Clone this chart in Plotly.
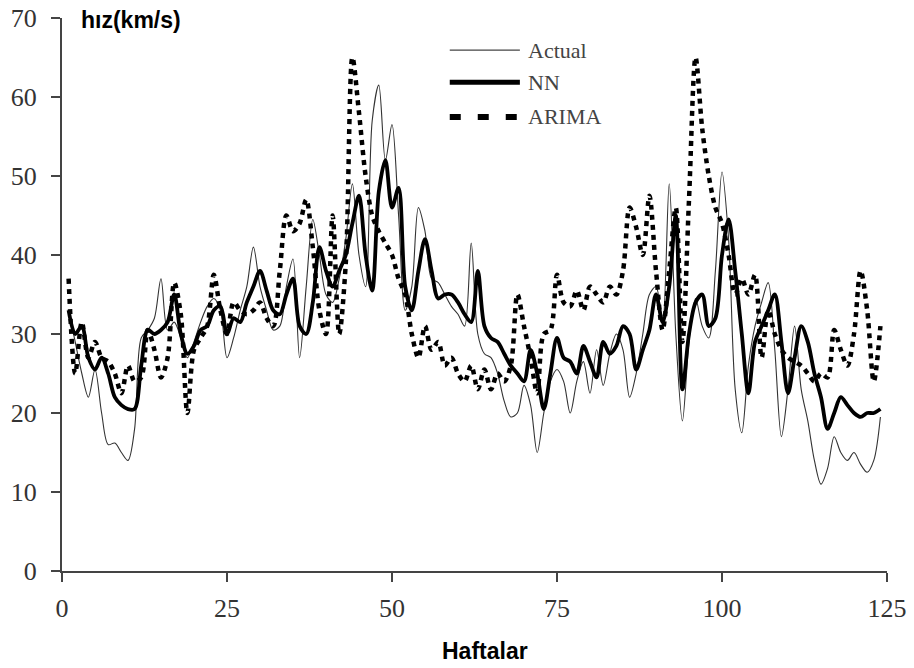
import plotly.graph_objects as go

weeks = list(range(1, 125))

actual = [33, 29, 25, 22, 25.5, 20, 16, 16.2, 15, 14,
          18, 29.5, 30.5, 32, 37, 30.5, 31.5, 29.5, 27, 29,
          31.5, 33.5, 34.5, 33, 27, 29.5, 33, 36, 41, 36,
          33, 30.5, 31, 36, 39.5, 27, 36, 44.5, 40, 35,
          34, 37, 42, 49, 40, 36, 57, 61.5, 52, 56.5,
          45, 33, 36, 46, 43, 37, 36.5, 35, 33.5, 32.5,
          31, 41.5, 30, 27.5, 27, 25, 21.5, 19.5, 20, 23.5,
          21, 15, 20, 24, 25.5, 24, 20, 24, 26.5, 22.5,
          28, 23.5, 27.5, 30, 28, 22, 25, 30, 35, 36,
          31.5, 49, 30, 19, 29, 34.5, 31, 29.5, 38, 50.5,
          42, 23, 17.5, 26, 31, 34, 36.5, 28, 17, 23,
          31, 23, 19, 14, 11, 13, 17, 15, 14, 15,
          13.5, 12.5, 14, 19.5]

nn = [33, 30, 31, 27, 25.5, 27, 25, 22, 21, 20.5,
      20.5, 26, 30.5, 30, 30.5, 31.5, 35, 30, 27.5, 28.5,
      30.5, 31, 33, 33.5, 30, 32, 31.5, 34, 36, 38,
      35.5, 33, 32.5, 35, 37, 31, 30, 34, 41, 38,
      36, 38, 40, 44, 47.5, 40, 35.5, 48, 52, 46,
      48.5, 36, 33, 38, 42, 38, 34.5, 35, 35, 34,
      32.5, 31.5, 38, 31, 29.5, 29, 27.5, 26, 25, 24,
      28, 25, 20.5, 25, 29.5, 27, 26.5, 25, 28.5, 26.5,
      24.5, 29, 27.5, 28.5, 31, 30, 25.5, 28, 30.5, 35,
      31.5, 36, 45, 23, 30, 34, 35, 31, 32, 40,
      44.5, 38, 30, 22.5, 29, 31, 33, 35, 29, 22.5,
      27, 31, 29, 25, 22, 18, 20, 22, 21, 20,
      19.5, 20, 20, 20.5]

arima = [37, 25, 31.5, 27, 29, 27, 26.5, 25, 22.5, 26,
         24, 24.5, 30.5, 28, 24.5, 27, 36.5, 32.5, 20, 28,
         29.5, 31, 37.5, 33, 30, 34, 33, 32.5, 33, 34,
         32, 31, 38, 45, 43, 44, 47, 41, 33, 30,
         45, 30, 39, 65, 58, 50, 45, 43, 41.5, 40,
         37, 35, 30, 27, 31, 28, 29, 26, 27, 25,
         24, 26, 23, 25.5, 23, 25, 24, 26, 35, 31,
         27, 22.5, 30, 30.5, 37.5, 34, 33.5, 35.5, 33, 36,
         35, 34, 36, 35, 38, 46, 43.5, 40, 47.5, 38,
         30.5, 38, 46, 29, 47, 65, 56, 50, 46, 44,
         40, 35, 37, 35, 37.5, 27, 33, 30, 28, 27,
         26.5, 26, 25, 24, 25, 24.5, 30.5, 28, 26, 30,
         38, 33, 24, 31]

x_ticks = [0, 25, 50, 75, 100, 125]
y_ticks = [0, 10, 20, 30, 40, 50, 60, 70]

series_names = ["Actual", "NN", "ARIMA"]

fig = go.Figure()

fig.add_trace(go.Scatter(
    x=weeks, y=actual, name="Actual", mode="lines",
    line=dict(color="#333333", width=1.1, shape="spline", smoothing=0.9),
    showlegend=False))
fig.add_trace(go.Scatter(
    x=weeks, y=nn, name="NN", mode="lines",
    line=dict(color="#000000", width=3.8, shape="spline", smoothing=0.9),
    showlegend=False))
fig.add_trace(go.Scatter(
    x=weeks, y=arima, name="ARIMA", mode="lines",
    line=dict(color="#000000", width=4.5, dash="5px,5px",
              shape="spline", smoothing=0.9),
    showlegend=False))

# hand-built legend: line samples plus labels
legend_styles = [
    dict(color="#444444", width=1.3),
    dict(color="#000000", width=5),
    dict(color="#000000", width=6, dash="11px,17px"),
]
legend_y = [0.942, 0.884, 0.821]
for name, style, ly in zip(series_names, legend_styles, legend_y):
    fig.add_shape(type="line", xref="paper", yref="paper",
                  x0=0.470, x1=0.555, y0=ly, y1=ly, line=style)
    fig.add_annotation(xref="paper", yref="paper", x=0.562, y=ly,
                       text=name, showarrow=False, xanchor="left",
                       yanchor="middle",
                       font=dict(family="Liberation Serif", size=22,
                                 color="#444444"))

# axis titles
fig.add_annotation(xref="paper", yref="paper", x=0.021, y=0.997,
                   text="<b>hız(km/s)</b>", showarrow=False,
                   xanchor="left", yanchor="middle",
                   font=dict(family="Liberation Sans", size=23,
                             color="#000000"))
fig.add_annotation(xref="paper", yref="paper", x=0.513, y=-0.145,
                   text="<b>Haftalar</b>", showarrow=False,
                   xanchor="center", yanchor="middle",
                   font=dict(family="Liberation Sans", size=23,
                             color="#000000"))

axis_common = dict(
    showgrid=False, zeroline=False, showline=True, automargin=False,
    linecolor="#444444", linewidth=2,
    ticks="outside", ticklen=9, tickwidth=2, tickcolor="#444444",
    tickfont=dict(family="Liberation Serif", size=26, color="#333333"),
)

fig.update_xaxes(range=[0, 125], tickvals=x_ticks, ticklabelstandoff=4,
                 **axis_common)
fig.update_yaxes(range=[0, 70], tickvals=y_ticks, ticklabelstandoff=9,
                 **axis_common)

fig.update_layout(
    width=914, height=668,
    margin=dict(l=62, r=27, t=18, b=97),
    plot_bgcolor="white", paper_bgcolor="white",
)

fig.write_html("out.html")
